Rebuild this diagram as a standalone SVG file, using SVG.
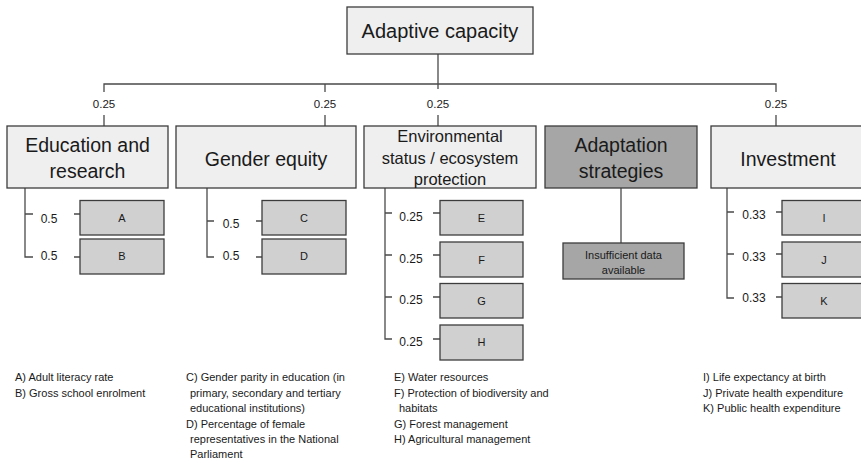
<svg xmlns="http://www.w3.org/2000/svg" width="861" height="459" viewBox="0 0 861 459">
<style>
.lvl0{fill:#efefef;stroke:#3c3c3c;stroke-width:1.3}
.lvl1{fill:#efefef;stroke:#3c3c3c;stroke-width:1.3}
.dark{fill:#a6a6a6;stroke:#3c3c3c;stroke-width:1.3}
.leaf{fill:#d0d0d0;stroke:#3c3c3c;stroke-width:1.3}
.conn{fill:none;stroke:#4a4a4a;stroke-width:1.3}
text{font-family:"Liberation Sans",Arial,sans-serif;fill:#1a1a1a}
.t0{font-size:20px;text-anchor:middle}
.t1{font-size:19.5px;text-anchor:middle}
.t1s{font-size:16.5px;text-anchor:middle}
.w{font-size:11.5px;text-anchor:middle}
.wl{font-size:12px;text-anchor:middle}
.lt{font-size:11px;text-anchor:middle}
.lg{font-size:11px}
</style>
<rect width="861" height="459" fill="#ffffff"/>
<g id="connectors">
<path class="conn" d="M438,54 V89 M104,92 V84 H776 V92 M325,84 V92"/>
<path class="conn" d="M104,115 V126 M325,115 V126 M438,115 V126 M776,115 V126"/>
<path class="conn" d="M25,188 V257 H33 M25,214 H33 M74,214 H80 M74,257 H80"/>
<path class="conn" d="M207,188 V257 H214 M207,221 H214 M256,221 H262 M256,257 H262"/>
<path class="conn" d="M385,188 V339 H392 M385,213 H392 M385,255 H392 M385,297 H392 M433,213 H440 M433,255 H440 M433,297 H440 M433,339 H440"/>
<path class="conn" d="M621,188 V243"/>
<path class="conn" d="M727,188 V298 H734 M727,212 H734 M727,254 H734 M776,212 H782 M776,254 H782 M776,297 H782"/>
</g>
<g id="weights">
<text class="w" x="104" y="108">0.25</text>
<text class="w" x="325" y="108">0.25</text>
<text class="w" x="438" y="108">0.25</text>
<text class="w" x="776" y="108">0.25</text>
<text class="wl" x="49" y="223">0.5</text>
<text class="wl" x="49" y="260">0.5</text>
<text class="wl" x="231" y="228">0.5</text>
<text class="wl" x="231" y="260">0.5</text>
<text class="wl" x="411" y="221">0.25</text>
<text class="wl" x="411" y="263">0.25</text>
<text class="wl" x="411" y="304">0.25</text>
<text class="wl" x="411" y="346">0.25</text>
<text class="wl" x="754" y="219">0.33</text>
<text class="wl" x="754" y="261">0.33</text>
<text class="wl" x="754" y="302">0.33</text>
</g>
<g id="adaptive-capacity">
<rect class="lvl0" x="347" y="7" width="186" height="47"/>
<text class="t0" x="440" y="38">Adaptive capacity</text>
</g>
<g id="education">
<rect class="lvl1" x="7" y="126" width="161" height="62"/>
<text class="t1" x="87.5" y="152">Education and</text>
<text class="t1" x="87.5" y="178">research</text>
</g>
<g id="gender">
<rect class="lvl1" x="176" y="126" width="180" height="62"/>
<text class="t1" x="266" y="166">Gender equity</text>
</g>
<g id="environment">
<rect class="lvl1" x="364" y="126" width="172" height="62"/>
<text class="t1s" x="450" y="142">Environmental</text>
<text class="t1s" x="450" y="164">status / ecosystem</text>
<text class="t1s" x="450" y="185">protection</text>
</g>
<g id="adaptation">
<rect class="dark" x="545" y="126" width="152" height="62"/>
<text class="t1" x="621" y="152">Adaptation</text>
<text class="t1" x="621" y="178">strategies</text>
</g>
<g id="investment">
<rect class="lvl1" x="711" y="126" width="154" height="62"/>
<text class="t1" x="788" y="166">Investment</text>
</g>
<g id="A"><rect class="leaf" x="80" y="200.5" width="84" height="34.5"/><text class="lt" x="122" y="221.5">A</text></g>
<g id="B"><rect class="leaf" x="80" y="239" width="84" height="35"/><text class="lt" x="122" y="260">B</text></g>
<g id="C"><rect class="leaf" x="262" y="200.5" width="84" height="34.5"/><text class="lt" x="304" y="221.5">C</text></g>
<g id="D"><rect class="leaf" x="262" y="239" width="84" height="35"/><text class="lt" x="304" y="260">D</text></g>
<g id="E"><rect class="leaf" x="440" y="200.5" width="83" height="34.5"/><text class="lt" x="481.5" y="221.5">E</text></g>
<g id="F"><rect class="leaf" x="440" y="242" width="83" height="35"/><text class="lt" x="481.5" y="263.5">F</text></g>
<g id="G"><rect class="leaf" x="440" y="283.5" width="83" height="34.5"/><text class="lt" x="481.5" y="304.5">G</text></g>
<g id="H"><rect class="leaf" x="440" y="325" width="83" height="35"/><text class="lt" x="481.5" y="346">H</text></g>
<g id="insufficient"><rect class="dark" x="563" y="243" width="121" height="36"/><text class="lt" x="623.5" y="259">Insufficient data</text><text class="lt" x="623.5" y="274">available</text></g>
<g id="I"><rect class="leaf" x="782" y="200.5" width="84" height="34.5"/><text class="lt" x="824" y="221.5">I</text></g>
<g id="J"><rect class="leaf" x="782" y="242" width="84" height="35"/><text class="lt" x="824" y="263.5">J</text></g>
<g id="K"><rect class="leaf" x="782" y="283.5" width="84" height="34.5"/><text class="lt" x="824" y="304.5">K</text></g>
<g id="legend">
<text class="lg" x="15" y="381">A) Adult literacy rate</text>
<text class="lg" x="15" y="396.5">B) Gross school enrolment</text>
<text class="lg" x="186" y="381">C) Gender parity in education (in</text>
<text class="lg" x="190" y="396.5">primary, secondary and tertiary</text>
<text class="lg" x="190" y="412">educational institutions)</text>
<text class="lg" x="186" y="427.5">D) Percentage of female</text>
<text class="lg" x="190" y="443">representatives in the National</text>
<text class="lg" x="190" y="458">Parliament</text>
<text class="lg" x="394" y="381">E) Water resources</text>
<text class="lg" x="394" y="396.5">F) Protection of biodiversity and</text>
<text class="lg" x="399" y="412">habitats</text>
<text class="lg" x="394" y="427.5">G) Forest management</text>
<text class="lg" x="394" y="443">H) Agricultural management</text>
<text class="lg" x="703" y="381">I) Life expectancy at birth</text>
<text class="lg" x="703" y="396.5">J) Private health expenditure</text>
<text class="lg" x="703" y="412">K) Public health expenditure</text>
</g>
</svg>
